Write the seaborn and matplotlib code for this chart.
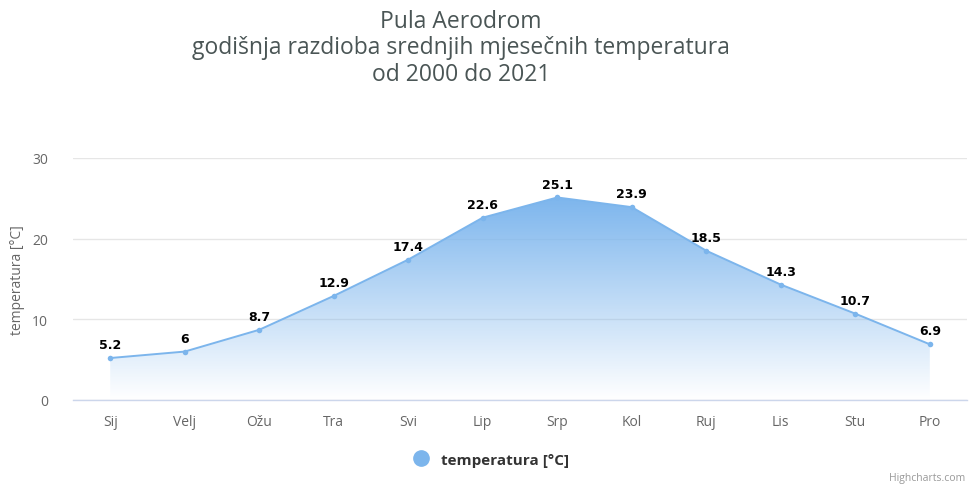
import numpy as np
import pandas as pd
import matplotlib
matplotlib.use("Agg")
import matplotlib.pyplot as plt
import seaborn as sns
from matplotlib.lines import Line2D
from matplotlib.colors import LinearSegmentedColormap

# podaci
mjeseci = ['Sij', 'Velj', 'Ožu', 'Tra', 'Svi', 'Lip', 'Srp', 'Kol', 'Ruj', 'Lis', 'Stu', 'Pro']
temperatura = [5.2, 6, 8.7, 12.9, 17.4, 22.6, 25.1, 23.9, 18.5, 14.3, 10.7, 6.9]
y_ticks = [0, 10, 20, 30]

df = pd.DataFrame({'mjesec': mjeseci, 'temperatura': temperatura})
df['x'] = np.arange(len(df))

sns.set_theme(style='white')
plt.rcParams['font.family'] = ['Open Sans', 'DejaVu Sans']

boja = '#7cb5ec'

fig = plt.figure(figsize=(9.69, 4.89), dpi=100)
ax = fig.add_axes([0.0753, 0.18, 0.9227, 0.495])

# gradijent ispod linije
cmap = LinearSegmentedColormap.from_list(
    'hc', [(0.49, 0.71, 0.93, 0.0), (0.49, 0.71, 0.93, 1.0)])
ymax = df['temperatura'].max()
grad = np.linspace(0, 1, 256).reshape(-1, 1)
img = ax.imshow(grad, cmap=cmap, aspect='auto', origin='lower',
                extent=[0, len(df) - 1, 0, ymax], zorder=1)
poly = ax.fill_between(df['x'], df['temperatura'], 0, color='none', lw=0)
clip = poly.get_paths()[0]
img.set_clip_path(clip, transform=ax.transData)

sns.lineplot(data=df, x='x', y='temperatura', ax=ax, color=boja, lw=1.4,
             marker='o', markersize=4, markeredgewidth=0, zorder=3)

for xi, yi in zip(df['x'], df['temperatura']):
    ax.annotate(f'{yi:g}', (xi, yi), xytext=(0, 5), textcoords='offset points',
                ha='center', va='bottom', fontsize=9, fontweight='bold',
                family='DejaVu Sans', color='black', zorder=4)

ax.set_xlim(-0.5, len(df) - 0.5)
ax.set_ylim(0, 30)
ax.set_yticks(y_ticks)
ax.set_xticks(df['x'])
ax.set_xticklabels(mjeseci)
ax.grid(axis='y', color='#e6e6e6', lw=1)
ax.set_axisbelow(True)
for s in ['top', 'right', 'left']:
    ax.spines[s].set_visible(False)
ax.spines['bottom'].set_color('#ccd6eb')
ax.spines['bottom'].set_linewidth(1)
ax.tick_params(axis='both', length=0, colors='#666666', labelsize=10)
ax.tick_params(axis='x', pad=10)
ax.tick_params(axis='y', pad=18)
ax.set_xlabel('')
ax.set_ylabel('temperatura [°C]', color='#666666', fontsize=10, labelpad=5)

fig.text(0.476, 0.979, 'Pula Aerodrom\ngodišnja razdioba srednjih mjesečnih temperatura\nod 2000 do 2021',
         ha='center', va='top', fontsize=16.5, color='#4a5555', linespacing=1.12)

# legenda
fig.legend(handles=[Line2D([], [], marker='o', ls='', color=boja, markersize=11)],
           labels=['temperatura [°C]'], loc='center', bbox_to_anchor=(0.503, 0.058),
           frameon=False, handletextpad=0.3, prop={'weight': 'bold', 'size': 11},
           labelcolor='#333333')

fig.text(0.996, 0.01, 'Highcharts.com', ha='right', va='bottom', fontsize=7.5, color='#999999')

plt.savefig('out.png', dpi=100)
plt.close()
